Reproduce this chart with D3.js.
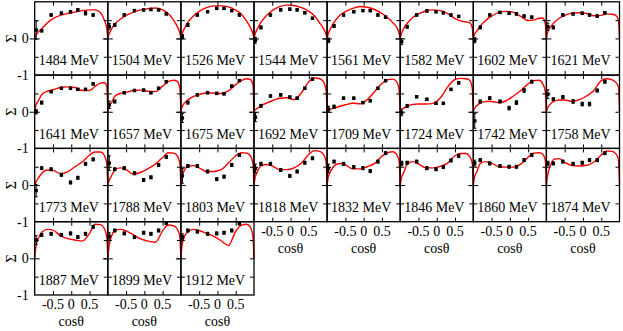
<!DOCTYPE html>
<html>
<head>
<meta charset="utf-8">
<script src="https://cdn.jsdelivr.net/npm/d3@7"></script>
<style>
  body { margin: 0; background: #fff; }
</style>
</head>
<body>
<svg id="chart" width="623" height="331" font-family="Liberation Serif, Times New Roman, Times, serif" font-size="14"></svg>
<script>
// beam energies, one panel each
const energies = [1484, 1504, 1526, 1544, 1561, 1582, 1602, 1621,
                  1641, 1657, 1675, 1692, 1709, 1724, 1742, 1758,
                  1773, 1788, 1803, 1818, 1832, 1846, 1860, 1874,
                  1887, 1899, 1912]

// cos(theta) where the model curve was read
const curveCos = [-1, -0.97, -0.9, -0.8, -0.65, -0.5, -0.3, -0.1, 0.1, 0.3, 0.5, 0.65, 0.8, 0.9, 0.97, 1]

// model curves (red)
const curves = [
  [0, 0.08, 0.18, 0.27, 0.43, 0.54, 0.63, 0.68, 0.72, 0.76, 0.78, 0.78, 0.7, 0.52, 0.28, 0],
  [0, 0.1, 0.26, 0.4, 0.53, 0.63, 0.72, 0.78, 0.81, 0.83, 0.78, 0.68, 0.5, 0.33, 0.15, 0],
  [0, 0.12, 0.28, 0.45, 0.62, 0.74, 0.84, 0.89, 0.89, 0.86, 0.77, 0.67, 0.47, 0.3, 0.13, 0],
  [0, 0.12, 0.28, 0.45, 0.63, 0.76, 0.87, 0.91, 0.9, 0.84, 0.74, 0.62, 0.42, 0.27, 0.12, 0],
  [0, 0.12, 0.28, 0.45, 0.63, 0.73, 0.82, 0.87, 0.85, 0.79, 0.68, 0.57, 0.43, 0.31, 0.14, 0],
  [0, 0.12, 0.28, 0.42, 0.58, 0.67, 0.75, 0.78, 0.76, 0.68, 0.54, 0.48, 0.45, 0.43, 0.3, 0],
  [0, 0.1, 0.2, 0.35, 0.5, 0.61, 0.71, 0.74, 0.71, 0.6, 0.49, 0.5, 0.55, 0.56, 0.4, 0],
  [0, 0.15, 0.3, 0.42, 0.55, 0.63, 0.69, 0.7, 0.68, 0.62, 0.63, 0.67, 0.66, 0.63, 0.5, 0],
  [0, 0.17, 0.3, 0.48, 0.56, 0.6, 0.66, 0.68, 0.66, 0.58, 0.58, 0.69, 0.78, 0.8, 0.72, 0],
  [0, 0.12, 0.25, 0.43, 0.5, 0.53, 0.58, 0.59, 0.56, 0.55, 0.7, 0.82, 0.86, 0.83, 0.65, 0],
  [0, 0.12, 0.24, 0.33, 0.42, 0.47, 0.51, 0.51, 0.5, 0.57, 0.74, 0.85, 0.9, 0.88, 0.75, 0],
  [0, 0.05, 0.1, 0.17, 0.24, 0.3, 0.37, 0.38, 0.33, 0.52, 0.82, 0.92, 0.9, 0.82, 0.6, 0],
  [0, 0.03, 0.07, 0.1, 0.15, 0.19, 0.23, 0.22, 0.33, 0.55, 0.77, 0.87, 0.89, 0.82, 0.6, 0],
  [0, 0.05, 0.1, 0.15, 0.2, 0.21, 0.21, 0.23, 0.38, 0.68, 0.88, 0.91, 0.9, 0.86, 0.65, 0],
  [0, 0.08, 0.17, 0.24, 0.28, 0.28, 0.25, 0.3, 0.43, 0.58, 0.76, 0.85, 0.86, 0.76, 0.55, 0],
  [0, 0.1, 0.2, 0.28, 0.32, 0.32, 0.28, 0.33, 0.43, 0.58, 0.85, 0.9, 0.87, 0.8, 0.68, 0],
  [0, 0.08, 0.19, 0.33, 0.41, 0.4, 0.31, 0.36, 0.5, 0.63, 0.82, 0.9, 0.9, 0.82, 0.6, 0],
  [0, 0.1, 0.25, 0.43, 0.47, 0.42, 0.3, 0.35, 0.45, 0.57, 0.75, 0.88, 0.87, 0.8, 0.6, 0],
  [0, 0.2, 0.42, 0.52, 0.53, 0.47, 0.37, 0.37, 0.42, 0.6, 0.8, 0.88, 0.87, 0.8, 0.6, 0],
  [0, 0.2, 0.38, 0.53, 0.56, 0.52, 0.42, 0.42, 0.47, 0.6, 0.84, 0.94, 0.92, 0.84, 0.65, 0],
  [0, 0.2, 0.38, 0.53, 0.59, 0.55, 0.44, 0.44, 0.5, 0.59, 0.79, 0.88, 0.91, 0.84, 0.65, 0],
  [0, 0.18, 0.35, 0.58, 0.64, 0.58, 0.47, 0.47, 0.51, 0.6, 0.8, 0.86, 0.86, 0.78, 0.6, 0],
  [0, 0.2, 0.37, 0.6, 0.64, 0.6, 0.5, 0.49, 0.49, 0.57, 0.76, 0.87, 0.88, 0.84, 0.68, 0],
  [0, 0.25, 0.5, 0.7, 0.72, 0.62, 0.53, 0.52, 0.54, 0.63, 0.82, 0.93, 0.92, 0.85, 0.7, 0],
  [0, 0.3, 0.55, 0.72, 0.79, 0.77, 0.62, 0.54, 0.5, 0.47, 0.68, 0.93, 0.92, 0.82, 0.6, 0],
  [0, 0.3, 0.6, 0.76, 0.79, 0.75, 0.64, 0.53, 0.47, 0.44, 0.75, 0.91, 0.89, 0.8, 0.6, 0],
  [0, 0.35, 0.6, 0.73, 0.79, 0.76, 0.68, 0.6, 0.48, 0.35, 0.74, 0.9, 0.93, 0.85, 0.6, 0]
]

// cos(theta) of the measured points
const pointCos = [-0.96, -0.81, -0.55, -0.27, -0.02, 0.18, 0.39, 0.6]

// measured beam asymmetry
const points = [
  [0.23, 0.21, 0.64, 0.69, 0.73, 0.78, 0.69, 0.64],
  [0.33, 0.37, 0.64, 0.76, 0.78, 0.79, 0.78, 0.67],
  [0.05, 0.37, 0.64, 0.73, 0.82, 0.82, 0.76, 0.64],
  [-0.05, 0.3, 0.64, 0.78, 0.8, 0.78, 0.7, 0.55],
  [-0.05, 0.34, 0.64, 0.73, 0.76, 0.76, 0.64, 0.58],
  [-0.09, 0.32, 0.64, 0.75, 0.73, 0.7, 0.64, 0.6],
  [-0.05, 0.3, 0.64, 0.71, 0.69, 0.67, 0.61, 0.58],
  [0.32, 0.3, 0.64, 0.67, 0.69, 0.64, 0.61, 0.7],
  [0.0, 0.25, 0.55, 0.64, 0.64, 0.61, 0.61, 0.76],
  [0.19, 0.28, 0.52, 0.58, 0.59, 0.52, 0.64, 0.82],
  [-0.17, 0.25, 0.46, 0.52, 0.5, 0.49, 0.7, 0.85],
  [-0.15, 0.16, 0.43, 0.46, 0.4, 0.37, 0.64, 0.89],
  [0.07, 0.14, 0.37, 0.37, 0.25, 0.3, 0.64, 0.85],
  [-0.03, 0.16, 0.41, 0.34, 0.23, 0.23, 0.61, 0.79],
  [-0.25, 0.28, 0.37, 0.28, 0.1, 0.25, 0.58, 0.82],
  [0.48, 0.34, 0.4, 0.28, 0.21, 0.21, 0.58, 0.82],
  [-0.15, 0.46, 0.43, 0.28, 0.07, 0.2, 0.58, 0.7],
  [0.6, 0.43, 0.46, 0.32, 0.14, 0.21, 0.55, 0.77],
  [0.25, 0.52, 0.52, 0.37, 0.16, 0.23, 0.55, 0.82],
  [0.45, 0.58, 0.58, 0.41, 0.25, 0.37, 0.61, 0.73],
  [0.45, 0.64, 0.58, 0.49, 0.46, 0.38, 0.64, 0.87],
  [0.59, 0.61, 0.64, 0.46, 0.43, 0.49, 0.67, 0.79],
  [0.6, 0.68, 0.59, 0.52, 0.5, 0.5, 0.68, 0.82],
  [0.59, 0.59, 0.64, 0.58, 0.61, 0.68, 0.68, 0.87],
  [0.5, 0.64, 0.67, 0.64, 0.68, 0.58, 0.67, 0.86],
  [0.6, 0.76, 0.68, 0.58, 0.7, 0.67, 0.76, 0.96],
  [0.59, 0.76, 0.73, 0.67, 0.68, 0.7, 0.76, 0.95]
]

// error bars of the measured points
const errors = [
  [0.25, 0.03, 0.03, 0.03, 0.03, 0.03, 0.05, 0.03],
  [0.08, 0.04, 0.03, 0.03, 0.03, 0.03, 0.03, 0.03],
  [0.06, 0.04, 0.03, 0.03, 0.03, 0.03, 0.03, 0.03],
  [0.08, 0.04, 0.03, 0.03, 0.03, 0.03, 0.03, 0.03],
  [0.06, 0.04, 0.03, 0.03, 0.03, 0.03, 0.03, 0.03],
  [0.08, 0.04, 0.03, 0.03, 0.03, 0.03, 0.03, 0.03],
  [0.07, 0.04, 0.03, 0.03, 0.03, 0.03, 0.03, 0.03],
  [0.1, 0.04, 0.03, 0.03, 0.03, 0.03, 0.03, 0.03],
  [0.06, 0.04, 0.03, 0.03, 0.03, 0.03, 0.03, 0.03],
  [0.1, 0.04, 0.03, 0.03, 0.03, 0.03, 0.03, 0.03],
  [0.12, 0.04, 0.03, 0.03, 0.03, 0.03, 0.03, 0.03],
  [0.12, 0.04, 0.03, 0.03, 0.03, 0.03, 0.03, 0.03],
  [0.08, 0.04, 0.03, 0.03, 0.03, 0.03, 0.03, 0.03],
  [0.08, 0.04, 0.03, 0.03, 0.03, 0.03, 0.03, 0.03],
  [0.2, 0.04, 0.04, 0.04, 0.05, 0.05, 0.05, 0.04],
  [0.12, 0.04, 0.04, 0.05, 0.05, 0.05, 0.04, 0.04],
  [0.17, 0.04, 0.04, 0.04, 0.04, 0.04, 0.04, 0.04],
  [0.2, 0.04, 0.04, 0.04, 0.04, 0.04, 0.04, 0.04],
  [0.2, 0.04, 0.04, 0.04, 0.04, 0.04, 0.04, 0.04],
  [0.12, 0.04, 0.04, 0.04, 0.04, 0.04, 0.04, 0.04],
  [0.12, 0.04, 0.04, 0.04, 0.04, 0.04, 0.04, 0.04],
  [0.06, 0.04, 0.04, 0.04, 0.04, 0.04, 0.04, 0.04],
  [0.08, 0.04, 0.04, 0.04, 0.04, 0.04, 0.04, 0.04],
  [0.06, 0.04, 0.04, 0.04, 0.04, 0.04, 0.04, 0.04],
  [0.12, 0.04, 0.04, 0.04, 0.04, 0.04, 0.04, 0.04],
  [0.1, 0.04, 0.04, 0.04, 0.04, 0.04, 0.04, 0.04],
  [0.08, 0.04, 0.04, 0.04, 0.04, 0.04, 0.04, 0.04]
]

const xTicks = [-0.5, 0, 0.5]
const xTickLabels = ['-0.5', '0', '0.5']
const yTicks = [-0.5, 0, 0.5]
const yTickLabels = [-1, 0]
const nCols = 8, nRows = 4

const svg = d3.select('#chart')

const colScale = d3.scaleLinear().domain([0, nCols]).range([34.7, 619.5])
const rowScale = d3.scaleLinear().domain([0, nRows]).range([1.8, 295])
const pw = colScale(1) - colScale(0)
const ph = rowScale(1) - rowScale(0)

const x = d3.scaleLinear().domain([-1, 1]).range([0, pw])
const y = d3.scaleLinear().domain([-1, 1]).range([ph, 0])
const line = d3.line().x(d => x(d[0])).y(d => y(d[1])).curve(d3.curveMonotoneX)

energies.forEach((e, i) => {
    const col = i % nCols, row = Math.floor(i / nCols)
    const g = svg.append('g').attr('transform', `translate(${colScale(col)}, ${rowScale(row)})`)

    // model
    g.append('path')
        .attr('d', line(curveCos.map((c, k) => [c, curves[i][k]])))
        .attr('fill', 'none')
        .attr('stroke', '#ff0000')
        .attr('stroke-width', 1.4)

    // data with error bars
    const pts = pointCos.map((c, k) => ({ c, v: points[i][k], err: errors[i][k] }))
    const pg = g.append('g').selectAll('g').data(pts).join('g')
    pg.append('line')
        .attr('x1', d => x(d.c)).attr('x2', d => x(d.c))
        .attr('y1', d => y(d.v - d.err)).attr('y2', d => y(d.v + d.err))
        .attr('stroke', '#000').attr('stroke-width', 1)
    pg.append('line')
        .attr('x1', d => x(d.c) - 1.5).attr('x2', d => x(d.c) + 1.5)
        .attr('y1', d => y(d.v - d.err)).attr('y2', d => y(d.v - d.err))
        .attr('stroke', '#000').attr('stroke-width', 1)
    pg.append('line')
        .attr('x1', d => x(d.c) - 1.5).attr('x2', d => x(d.c) + 1.5)
        .attr('y1', d => y(d.v + d.err)).attr('y2', d => y(d.v + d.err))
        .attr('stroke', '#000').attr('stroke-width', 1)
    pg.append('rect')
        .attr('x', d => x(d.c) - 1.7).attr('y', d => y(d.v) - 1.7)
        .attr('width', 3.4).attr('height', 3.4)
        .attr('fill', '#000')

    // inward ticks, top/bottom/left/right
    const tickStyle = sel => sel.call(s => s.select('.domain').remove())
        .call(s => s.selectAll('text').remove())
        .call(s => s.selectAll('line').attr('stroke', '#000').attr('stroke-width', 1))
    g.append('g').attr('transform', `translate(0, ${ph})`)
        .call(d3.axisBottom(x).tickValues(xTicks).tickSize(-4)).call(tickStyle)
    g.append('g')
        .call(d3.axisTop(x).tickValues(xTicks).tickSize(-4)).call(tickStyle)
    g.append('g')
        .call(d3.axisLeft(y).tickValues(yTicks).tickSize(-4)).call(tickStyle)
        .selectAll('line').attr('x1', d => d === 0 ? -5 : 0).attr('x2', d => d === 0 ? 5 : 4)
    g.append('g').attr('transform', `translate(${pw}, 0)`)
        .call(d3.axisRight(y).tickValues(yTicks).tickSize(-4)).call(tickStyle)

    // frame
    g.append('rect')
        .attr('width', pw).attr('height', ph)
        .attr('fill', 'none').attr('stroke', '#000').attr('stroke-width', 1.3)

    g.append('text')
        .attr('x', 4).attr('y', 63.5)
        .text(`${e} MeV`)

    // y labels on the first column
    if (col === 0) {
        g.selectAll('text.ylab').data(yTickLabels).join('text')
            .attr('class', 'ylab')
            .attr('x', -6).attr('y', d => y(d))
            .attr('dy', '0.35em')
            .attr('text-anchor', 'end')
            .text(d => String(d))
        g.append('text')
            .attr('transform', `translate(${-24}, ${ph / 2}) rotate(-90)`)
            .attr('text-anchor', 'middle')
            .attr('dy', '0.35em')
            .text('Σ')
    }

    // x labels when no panel sits below
    if (i + nCols >= energies.length) {
        g.selectAll('text.xlab').data(xTicks).join('text')
            .attr('class', 'xlab')
            .attr('x', d => x(d)).attr('y', ph + 14)
            .attr('text-anchor', 'middle')
            .text((d, k) => xTickLabels[k])
        g.append('text')
            .attr('x', pw / 2).attr('y', ph + 31.5)
            .attr('text-anchor', 'middle')
            .text('cosθ')
    }
})
</script>
</body>
</html>
